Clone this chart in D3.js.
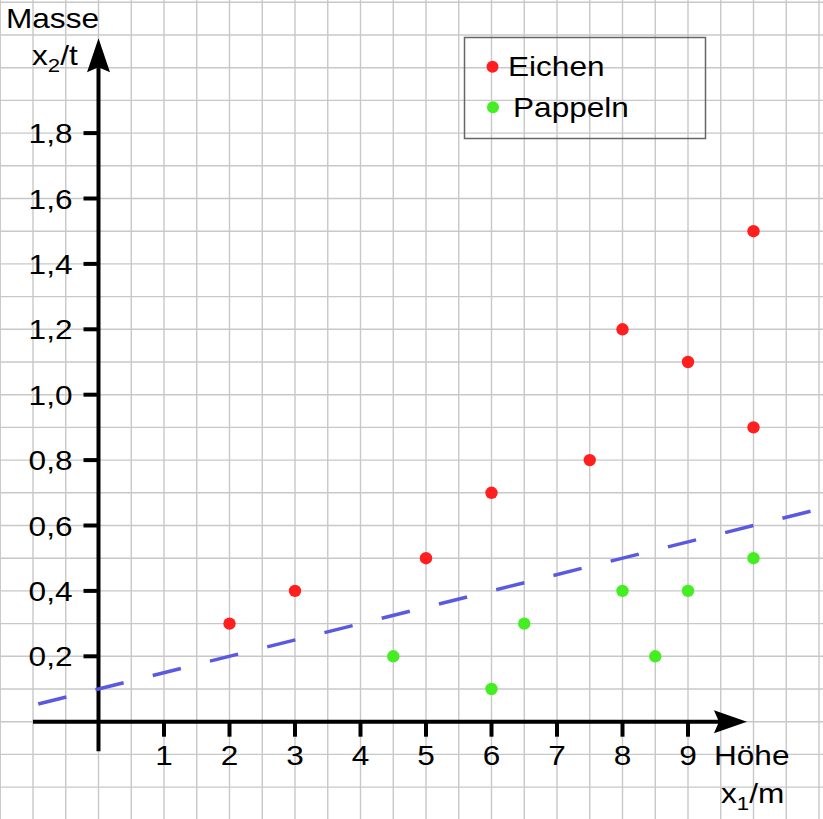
<!DOCTYPE html>
<html>
  <head>
    <meta charset="utf-8" />
    <title>Eichen und Pappeln</title>
    <script src="https://cdn.jsdelivr.net/npm/d3@7"></script>
    <style>
      body { margin: 0; background: #fff; }
      text { font-family: "Liberation Sans", Arial, sans-serif; fill: #000; }
    </style>
  </head>
  <body>
    <svg width="823" height="819"></svg>

    <script type="text/javascript">
      // data
      var eichenX = [2, 3, 5, 6, 7.5, 8, 9, 10, 10];
      var eichenY = [0.3, 0.4, 0.5, 0.7, 0.8, 1.2, 1.1, 1.5, 0.9];
      var pappelnX = [4.5, 6, 6.5, 8, 8.5, 9, 10];
      var pappelnY = [0.2, 0.1, 0.3, 0.4, 0.2, 0.4, 0.5];
      // dashed line (start and end)
      var lineX = [-0.92, 11.1];
      var lineY = [0.054, 0.655];
      var xTicks = [1, 2, 3, 4, 5, 6, 7, 8, 9];
      var yTicks = [0.2, 0.4, 0.6, 0.8, 1.0, 1.2, 1.4, 1.6, 1.8];

      var svg = d3.select("svg");
      var x = d3.scaleLinear().domain([0, 10]).range([98.5, 753.5]);
      var y = d3.scaleLinear().domain([0, 2]).range([721.7, 67.7]);
      var stretch = 1.17;

      function label(g, px, py, txt, anchor) {
        return g
          .append("text")
          .attr("transform", "translate(" + px + "," + py + ") scale(" + stretch + ",1)")
          .attr("text-anchor", anchor || "start")
          .style("font-size", "27px")
          .text(txt);
      }

      // grid
      var grid = svg.append("g").attr("stroke", "#c8c8c8").attr("stroke-width", 1.4);
      d3.range(-3, 23).forEach(function (i) {
        var gx = x(i * 0.5);
        grid.append("line").attr("x1", gx).attr("x2", gx).attr("y1", 0).attr("y2", 819);
      });
      d3.range(-3, 23).forEach(function (i) {
        var gy = y(i * 0.1);
        grid.append("line").attr("x1", 0).attr("x2", 823).attr("y1", gy).attr("y2", gy);
      });

      // axes
      var axes = svg.append("g");
      var x0 = x(0), y0 = y(0);
      var xEnd = x(9.9), yEnd = y(2.09);
      axes.append("line")
        .attr("x1", x(-1)).attr("x2", xEnd - 20)
        .attr("y1", y0).attr("y2", y0)
        .attr("stroke", "#000").attr("stroke-width", 4);
      axes.append("line")
        .attr("x1", x0).attr("x2", x0)
        .attr("y1", y(-0.09)).attr("y2", yEnd + 20)
        .attr("stroke", "#000").attr("stroke-width", 4);
      axes.append("path")
        .attr("d", "M" + xEnd + "," + y0 + " L" + (xEnd - 33) + "," + (y0 - 11.5) +
          " L" + (xEnd - 28) + "," + y0 + " L" + (xEnd - 33) + "," + (y0 + 11.5) + "Z")
        .attr("fill", "#000");
      axes.append("path")
        .attr("d", "M" + x0 + "," + yEnd + " L" + (x0 - 11.5) + "," + (yEnd + 34) +
          " L" + x0 + "," + (yEnd + 29) + " L" + (x0 + 11.5) + "," + (yEnd + 34) + "Z")
        .attr("fill", "#000");

      xTicks.forEach(function (t) {
        axes.append("line")
          .attr("x1", x(t)).attr("x2", x(t))
          .attr("y1", y0).attr("y2", y0 + 15)
          .attr("stroke", "#000").attr("stroke-width", 4);
        label(axes, x(t), y0 + 43, String(t), "middle");
      });
      yTicks.forEach(function (t) {
        axes.append("line")
          .attr("x1", x0 - 15).attr("x2", x0)
          .attr("y1", y(t)).attr("y2", y(t))
          .attr("stroke", "#000").attr("stroke-width", 4);
        label(axes, x0 - 26, y(t) + 10, t.toFixed(1).replace(".", ","), "end");
      });

      // axis titles
      label(axes, 6, 28, "Masse");
      var t2 = label(axes, 32, 65, "x");
      t2.append("tspan").attr("dy", 7).style("font-size", "19px").text("2");
      t2.append("tspan").attr("dy", -7).text("/t");
      label(axes, 714, 765, "Höhe");
      var t1 = label(axes, 721, 803, "x");
      t1.append("tspan").attr("dy", 7).style("font-size", "19px").text("1");
      t1.append("tspan").attr("dy", -7).text("/m");

      // dashed line
      var lineGen = d3.line()
        .x(function (d) { return x(d[0]); })
        .y(function (d) { return y(d[1]); });
      svg.append("path")
        .attr("d", lineGen(d3.zip(lineX, lineY)))
        .attr("fill", "none")
        .attr("stroke", "#5a5ae0")
        .attr("stroke-width", 3.5)
        .attr("stroke-dasharray", "29,30");

      // points
      svg.append("g").selectAll("circle")
        .data(d3.zip(eichenX, eichenY))
        .enter().append("circle")
        .attr("cx", function (d) { return x(d[0]); })
        .attr("cy", function (d) { return y(d[1]); })
        .attr("r", 6.2)
        .attr("fill", "#ff1f1f");
      svg.append("g").selectAll("circle")
        .data(d3.zip(pappelnX, pappelnY))
        .enter().append("circle")
        .attr("cx", function (d) { return x(d[0]); })
        .attr("cy", function (d) { return y(d[1]); })
        .attr("r", 6.2)
        .attr("fill", "#44ee22");

      // legend
      var leg = svg.append("g");
      leg.append("rect")
        .attr("x", 464.5).attr("y", 37.5)
        .attr("width", 241).attr("height", 101)
        .attr("fill", "none")
        .attr("stroke", "#666").attr("stroke-width", 1.5);
      leg.append("circle").attr("cx", 492.5).attr("cy", 66.7).attr("r", 6).attr("fill", "#ff1f1f");
      label(leg, 508, 76, "Eichen");
      leg.append("circle").attr("cx", 493).attr("cy", 107.3).attr("r", 6).attr("fill", "#44ee22");
      label(leg, 513, 116.5, "Pappeln");
    </script>
  </body>
</html>
